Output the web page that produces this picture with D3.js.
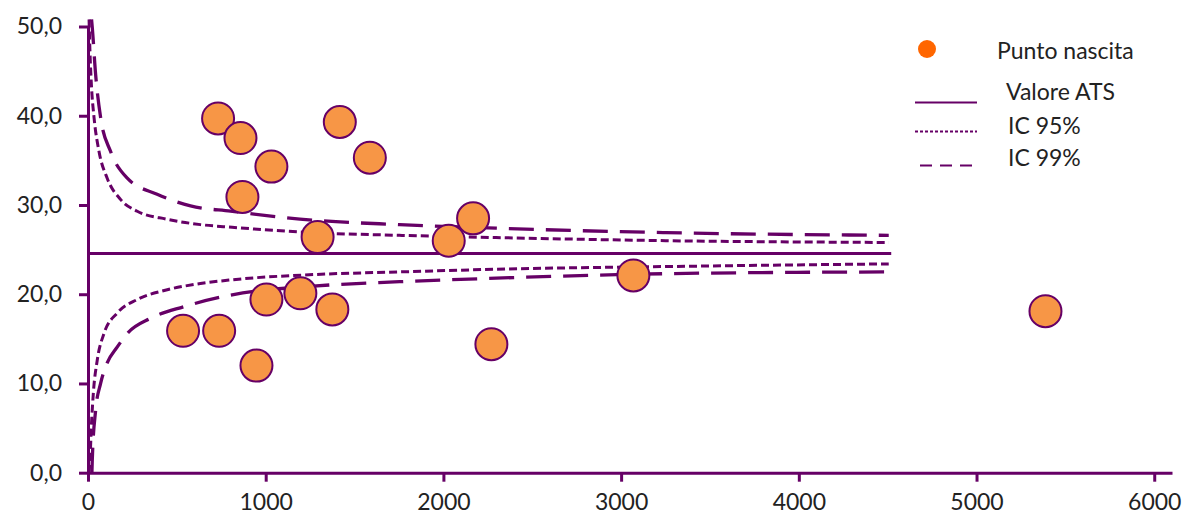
<!DOCTYPE html>
<html>
<head>
<meta charset="utf-8">
<script src="https://cdn.jsdelivr.net/npm/d3@7"></script>
<style>
  body { margin: 0; background: #fff; }
  svg text { font-family: Lato, "Open Sans", sans-serif; fill: #222; }
</style>
</head>
<body>
<div id="viz"></div>
<script>
// punti nascita: numero parti (x) e valore percentuale (y)
var partiX = [732, 858, 1032, 869, 1417, 1586, 1292, 2030, 2167, 535, 738, 948, 1004, 1195, 1375, 3069, 2270, 5388];
var valoriY = [39.7, 37.5, 34.3, 30.9, 39.3, 35.3, 26.4, 26.0, 28.5, 15.9, 15.9, 12.0, 19.4, 20.1, 18.3, 22.1, 14.4, 18.1];

// valore ATS
var atsX = [0, 4520];
var atsY = [24.55, 24.55];

// limiti di controllo
var ic95supX = [6, 11, 19, 34, 62, 108, 184, 277, 446, 633, 811, 1266, 1753, 2296, 3251, 4506];
var ic95supY = [50.8, 47.2, 43.5, 39.8, 36.0, 33.0, 30.6, 29.3, 28.4, 27.8, 27.5, 26.9, 26.6, 26.35, 26.0, 25.8];
var ic95infX = [6, 11, 19, 30, 52, 90, 165, 277, 446, 633, 802, 1266, 1753, 2296, 3251, 4506];
var ic95infY = [0.0, 1.4, 5.2, 8.9, 12.6, 15.6, 17.9, 19.4, 20.5, 21.2, 21.6, 22.2, 22.5, 22.8, 23.1, 23.4];
var ic99supX = [20, 24, 43, 71, 127, 221, 389, 577, 802, 1266, 1753, 2296, 3251, 4506];
var ic99supY = [50.8, 49.9, 44.6, 39.8, 36.0, 33.0, 31.2, 29.9, 29.3, 28.3, 27.8, 27.4, 26.9, 26.6];
var ic99infX = [22, 24, 43, 71, 108, 165, 221, 352, 539, 802, 1266, 1753, 2296, 3251, 4506];
var ic99infY = [0.0, 1.4, 7.0, 10.0, 12.3, 14.1, 15.6, 17.3, 18.6, 19.9, 20.9, 21.4, 21.8, 22.3, 22.5];

var xTicks = [0, 1000, 2000, 3000, 4000, 5000, 6000];
var yTicks = [0, 10, 20, 30, 40, 50];

var legendLabels = ['Punto nascita', 'Valore ATS', 'IC 95%', 'IC 99%'];

var width = 1185, height = 518;
var purple = '#660066';

var svg = d3.select('#viz').append('svg')
  .attr('width', width)
  .attr('height', height);

var x = d3.scaleLinear().domain([0, 6100]).range([88, 1172]);
var y = d3.scaleLinear().domain([0, 50]).range([472.7, 26.5]);

function pairs(xs, ys) {
  return xs.map(function(d, i) { return [d, ys[i]]; });
}

var line = d3.line()
  .x(function(d) { return x(d[0]); })
  .y(function(d) { return y(d[1]); })
  .curve(d3.curveMonotoneX);

var series = [
  { data: pairs(ic95supX, ic95supY), dash: '8,4', w: 3 },
  { data: pairs(ic95infX, ic95infY), dash: '8,4', w: 3 },
  { data: pairs(ic99supX, ic99supY), dash: '25,12', w: 3.3 },
  { data: pairs(ic99infX, ic99infY), dash: '25,12', w: 3.3 },
  { data: pairs(atsX, atsY), dash: null, w: 3 }
];

svg.append('g').selectAll('path').data(series)
  .enter().append('path')
    .attr('d', function(d) { return line(d.data); })
    .attr('fill', 'none')
    .attr('stroke', purple)
    .attr('stroke-width', function(d) { return d.w; })
    .attr('stroke-dasharray', function(d) { return d.dash; });

// axes
var xAxis = svg.append('g')
  .attr('transform', 'translate(0,' + y(0) + ')')
  .call(d3.axisBottom(x).tickValues(xTicks).tickSize(9).tickSizeOuter(0).tickPadding(8)
    .tickFormat(d3.format('d')));

var yAxis = svg.append('g')
  .attr('transform', 'translate(' + x(0) + ',0)')
  .call(d3.axisLeft(y).tickValues(yTicks).tickSize(9).tickSizeOuter(0).tickPadding(17)
    .tickFormat(function(d) { return d3.format('.1f')(d).replace('.', ','); }));

[xAxis, yAxis].forEach(function(a) {
  a.select('.domain').attr('stroke', purple).attr('stroke-width', 3);
  a.selectAll('.tick line').attr('stroke', purple).attr('stroke-width', 3);
  a.selectAll('.tick text').style('font-size', '23px').attr('fill', '#222');
});
xAxis.selectAll('.tick text').attr('dy', '0.9em');

// punti
svg.append('g').selectAll('circle').data(pairs(partiX, valoriY))
  .enter().append('circle')
    .attr('cx', function(d) { return x(d[0]); })
    .attr('cy', function(d) { return y(d[1]); })
    .attr('r', 16)
    .attr('fill', '#F79646')
    .attr('stroke', purple)
    .attr('stroke-width', 2);

// legenda
var leg = svg.append('g');
leg.append('circle').attr('cx', 927).attr('cy', 49).attr('r', 9).attr('fill', '#FF6600');
var legLines = [
  { y: 102.5, dash: null, x1: 915 },
  { y: 131.5, dash: '3,2', x1: 915 },
  { y: 165.5, dash: '12,8', x1: 920 }
];
leg.selectAll('line').data(legLines)
  .enter().append('line')
    .attr('x1', function(d) { return d.x1; })
    .attr('x2', 977)
    .attr('y1', function(d) { return d.y; })
    .attr('y2', function(d) { return d.y; })
    .attr('stroke', purple)
    .attr('stroke-width', 2)
    .attr('stroke-dasharray', function(d) { return d.dash; });

var legText = [
  { x: 997, y: 59 },
  { x: 1006, y: 100 },
  { x: 1008, y: 134 },
  { x: 1008, y: 166 }
];
leg.selectAll('text').data(legendLabels)
  .enter().append('text')
    .attr('x', function(d, i) { return legText[i].x; })
    .attr('y', function(d, i) { return legText[i].y; })
    .style('font-size', '23px')
    .text(function(d) { return d; });
</script>
</body>
</html>
